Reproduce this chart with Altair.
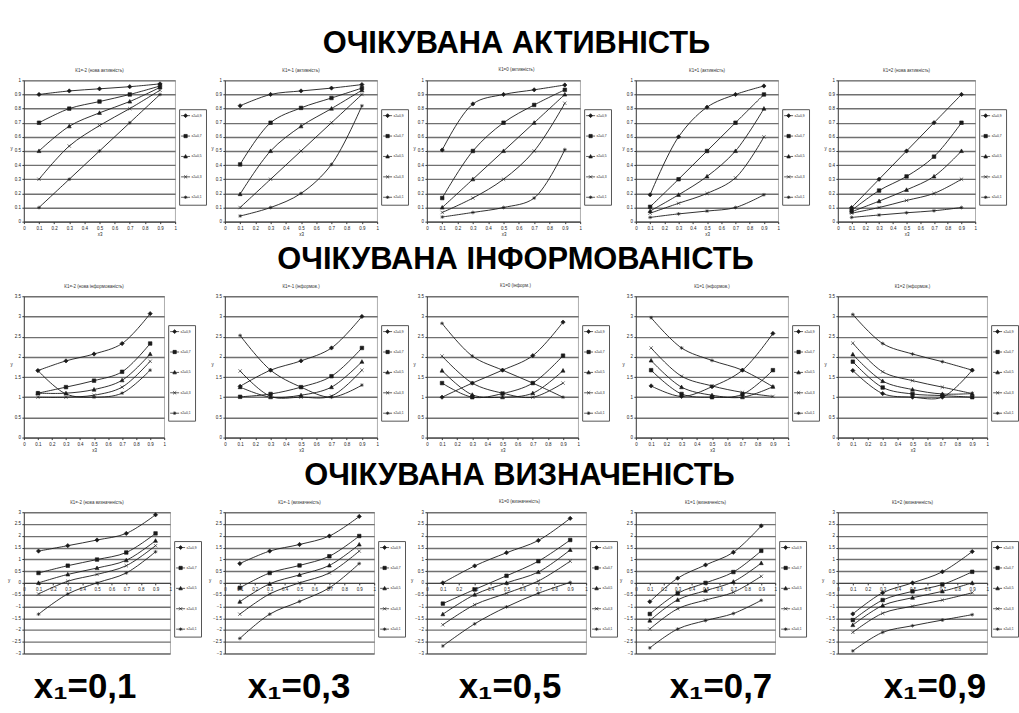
import altair as alt
import pandas as pd

# ---------------------------------------------------------------- data
X3 = [0.1, 0.3, 0.5, 0.7, 0.9]
SERIES = ["x2=0,9", "x2=0,7", "x2=0,5", "x2=0,3", "x2=0,1"]
X1_LABELS = ["x₁=0,1", "x₁=0,3", "x₁=0,5", "x₁=0,7", "x₁=0,9"]
ROW_TITLES = ["ОЧІКУВАНА АКТИВНІСТЬ", "ОЧІКУВАНА ІНФОРМОВАНІСТЬ", "ОЧІКУВАНА ВИЗНАЧЕНІСТЬ"]

ACT_TITLES = ["К1=-2 (нова активність)", "К1=-1 (активність)", "К1=0 (активність)",
              "К1=1 (активність)", "К1=2 (нова активність)"]
INF_TITLES = ["К1=-2 (нова інформованість)", "К1=-1 (інформов.)", "К1=0 (інформ.)",
              "К1=1 (інформов.)", "К1=2 (інформов.)"]
DEF_TITLES = ["К1=-2 (нова визначеність)", "К1=-1 (визначеність)", "К1=0 (визначеність)",
              "К1=1 (визначеність)", "К1=2 (визначеність)"]

X_TICKS = [0, 0.1, 0.2, 0.3, 0.4, 0.5, 0.6, 0.7, 0.8, 0.9, 1]
Y_TICKS_ACT = [0, 0.1, 0.2, 0.3, 0.4, 0.5, 0.6, 0.7, 0.8, 0.9, 1]
Y_TICKS_INF = [0, 0.5, 1, 1.5, 2, 2.5, 3, 3.5]
Y_TICKS_DEF = [-3, -2.5, -2, -1.5, -1, -0.5, 0, 0.5, 1, 1.5, 2, 2.5, 3]

# expected activity, one list per x2 series (0.9, 0.7, 0.5, 0.3, 0.1)
act_x1_01 = [[0.90, 0.925, 0.94, 0.955, 0.975],
             [0.70, 0.80, 0.85, 0.90, 0.96],
             [0.50, 0.675, 0.77, 0.85, 0.95],
             [0.30, 0.535, 0.68, 0.80, 0.93],
             [0.10, 0.30, 0.50, 0.70, 0.90]]
act_x1_03 = [[0.82, 0.90, 0.925, 0.945, 0.97],
             [0.405, 0.70, 0.805, 0.875, 0.945],
             [0.195, 0.50, 0.675, 0.80, 0.93],
             [0.10, 0.30, 0.50, 0.70, 0.90],
             [0.04, 0.10, 0.20, 0.405, 0.82]]
act_x1_05 = [[0.507, 0.833, 0.90, 0.933, 0.967],
             [0.167, 0.50, 0.70, 0.826, 0.933],
             [0.10, 0.30, 0.50, 0.70, 0.90],
             [0.065, 0.167, 0.30, 0.50, 0.838],
             [0.033, 0.065, 0.10, 0.167, 0.51]]
act_x1_07 = [[0.19, 0.60, 0.81, 0.90, 0.96],
             [0.105, 0.30, 0.50, 0.70, 0.90],
             [0.075, 0.19, 0.32, 0.50, 0.80],
             [0.06, 0.13, 0.20, 0.31, 0.60],
             [0.03, 0.055, 0.075, 0.10, 0.19]]
act_x1_09 = [[0.10, 0.30, 0.50, 0.70, 0.90],
             [0.08, 0.22, 0.32, 0.46, 0.70],
             [0.07, 0.145, 0.225, 0.32, 0.50],
             [0.06, 0.10, 0.15, 0.20, 0.30],
             [0.03, 0.047, 0.063, 0.077, 0.10]]

# expected informedness
inf_x1_01 = [[1.66, 1.90, 2.07, 2.33, 3.07],
             [1.10, 1.25, 1.41, 1.63, 2.33],
             [1.10, 1.10, 1.19, 1.42, 2.07],
             [1.00, 1.00, 1.05, 1.25, 1.89],
             [1.66, 1.08, 1.00, 1.10, 1.67]]
inf_x1_03 = [[1.27, 1.67, 1.90, 2.22, 3.00],
             [1.01, 1.08, 1.25, 1.52, 2.22],
             [1.25, 1.00, 1.05, 1.25, 1.88],
             [1.65, 1.02, 1.00, 1.03, 1.67],
             [2.53, 1.67, 1.25, 1.00, 1.30]]
inf_x1_05 = [[1.00, 1.35, 1.67, 2.03, 2.86],
             [1.35, 1.00, 1.09, 1.35, 2.03],
             [1.66, 1.06, 1.00, 1.10, 1.66],
             [2.02, 1.35, 1.10, 1.00, 1.35],
             [2.83, 2.02, 1.67, 1.35, 1.00]]
inf_x1_07 = [[1.28, 1.02, 1.26, 1.67, 2.58],
             [1.67, 1.08, 1.00, 1.07, 1.67],
             [1.91, 1.25, 1.05, 1.00, 1.26],
             [2.22, 1.52, 1.28, 1.12, 1.02],
             [2.97, 2.22, 1.91, 1.67, 1.26]]
inf_x1_09 = [[1.66, 1.09, 1.00, 1.00, 1.67],
             [1.88, 1.24, 1.08, 1.04, 1.00],
             [2.06, 1.40, 1.19, 1.08, 1.09],
             [2.34, 1.63, 1.41, 1.25, 1.09],
             [3.05, 2.33, 2.07, 1.88, 1.67]]

# expected definiteness
def_x1_01 = [[1.35, 1.58, 1.82, 2.10, 2.89],
             [0.42, 0.73, 0.99, 1.29, 2.10],
             [0.00, 0.36, 0.63, 0.96, 1.79],
             [-0.47, 0.07, 0.36, 0.73, 1.58],
             [-1.33, -0.47, 0.00, 0.42, 1.32]]
def_x1_03 = [[0.82, 1.35, 1.63, 1.99, 2.82],
             [-0.21, 0.42, 0.74, 1.13, 1.99],
             [-0.80, -0.04, 0.34, 0.74, 1.63],
             [-1.33, -0.47, 0.00, 0.42, 1.35],
             [-2.36, -1.33, -0.79, -0.21, 0.82]]
def_x1_05 = [[0.00, 0.72, 1.28, 1.80, 2.74],
             [-0.88, -0.28, 0.30, 0.92, 1.82],
             [-1.33, -0.50, 0.00, 0.46, 1.40],
             [-1.78, -0.93, -0.44, 0.08, 0.92],
             [-2.68, -1.74, -1.02, -0.44, 0.02]]
def_x1_07 = [[-0.80, 0.20, 0.76, 1.30, 2.42],
             [-1.32, -0.44, 0.00, 0.46, 1.36],
             [-1.60, -0.72, -0.33, 0.05, 0.84],
             [-1.96, -1.10, -0.73, -0.40, 0.28],
             [-2.76, -1.96, -1.60, -1.30, -0.74]]
def_x1_09 = [[-1.32, -0.42, 0.00, 0.47, 1.33],
             [-1.58, -0.73, -0.36, -0.07, 0.47],
             [-1.79, -0.96, -0.63, -0.36, 0.00],
             [-2.10, -1.29, -0.99, -0.73, -0.42],
             [-2.89, -2.10, -1.82, -1.58, -1.35]]

# ---------------------------------------------------------------- styling
FONT = "Liberation Sans"
INK = "#1a1a1a"
PANEL_H = 142
ROW_WIDTHS = [[152, 153, 154, 143, 138],
              [141, 153, 152, 153, 150],
              [147, 150, 160, 140, 150]]
LABEL_X = [61, 74, 83, 85, 97]

MARKS = ["M0,-1.15L1.15,0L0,1.15L-1.15,0Z",              # diamond
         "M-0.95,-0.95L0.95,-0.95L0.95,0.95L-0.95,0.95Z",  # square
         "M0,-1.1L1.05,0.85L-1.05,0.85Z",                  # triangle
         "M-0.9,-0.9L0.9,0.9M-0.9,0.9L0.9,-0.9",           # x
         "M-1,0L1,0M0,-1L0,1M-0.7,-0.7L0.7,0.7M-0.7,0.7L0.7,-0.7"]  # star
KEY_MARKS = ["M-2.6,0L2.6,0" + m for m in MARKS]


def long_frame(values):
    rows = []
    for name, ys in zip(SERIES, values):
        for x, y in zip(X3, ys):
            rows.append({"x3": x, "y": y, "series": name})
    return pd.DataFrame(rows)


def panel(values, width, small_title, y_domain, y_ticks, big_title=None, col=0, zero_axis=False):
    data = long_frame(values)
    if zero_axis:
        x_axis = alt.Axis(values=X_TICKS, format=".1~f", labelFlush=False, grid=False,
                          offset=-PANEL_H / 2, title=X1_LABELS[col],
                          titleFontSize=35, titleFontWeight="bold", titleColor="black",
                          titleX=LABEL_X[col], titleY=104, titleAlign="center",
                          titleBaseline="middle", titleAngle=0)
    else:
        x_axis = alt.Axis(values=X_TICKS, format=".1~f", labelFlush=False, grid=False,
                          title="x3")
    y_axis = alt.Axis(values=y_ticks, format=".1~f", title="y", titleAngle=0,
                      titlePadding=3, grid=True)
    x_enc = alt.X("x3:Q", scale=alt.Scale(domain=[0, 1], nice=False), axis=x_axis)
    y_enc = alt.Y("y:Q", scale=alt.Scale(domain=y_domain, nice=False), axis=y_axis)

    lines = alt.Chart(data).mark_line(
        interpolate="catmull-rom", color=INK, strokeWidth=0.9
    ).encode(x=x_enc, y=y_enc, detail="series:N")

    points = alt.Chart(data).mark_point(
        filled=True, fill=INK, stroke=INK, strokeWidth=0.6, size=14, opacity=1
    ).encode(
        x=x_enc, y=y_enc,
        shape=alt.Shape("series:N", scale=alt.Scale(domain=SERIES, range=MARKS), legend=None),
    )

    # legend entries draw a short line through each marker
    key = alt.Chart(data).transform_filter("false").mark_point(
        filled=True, fill=INK, stroke=INK, strokeWidth=0.7, size=12, opacity=1
    ).encode(
        x=x_enc, y=y_enc,
        shape=alt.Shape(
            "series:N",
            scale=alt.Scale(domain=SERIES, range=KEY_MARKS),
            legend=alt.Legend(
                title=None, orient="none", legendX=width + 4, legendY=29,
                strokeColor="#555", fillColor="white", padding=4, cornerRadius=0,
                rowPadding=13.5, labelFontSize=3.3, labelOffset=3.5, labelFont=FONT,
                labelColor=INK, symbolSize=12, symbolStrokeWidth=0.7, symbolOpacity=1,
            ),
        ),
    )

    if big_title:
        title = alt.TitleParams(
            text=big_title, subtitle=small_title, fontSize=31, fontWeight="bold",
            font=FONT, color="black", subtitleFontSize=4.5, subtitleFont=FONT,
            subtitleColor="#333", subtitlePadding=7, offset=5, anchor="middle", dx=13,
        )
    else:
        title = alt.TitleParams(text=small_title, fontSize=4.5, fontWeight="normal",
                                font=FONT, color="#333", offset=5, anchor="middle")

    return alt.layer(lines, points, key).resolve_scale(shape="independent").properties(
        width=width, height=PANEL_H, title=title
    )


rows = [
    ([act_x1_01, act_x1_03, act_x1_05, act_x1_07, act_x1_09], ACT_TITLES, [0, 1], Y_TICKS_ACT, False),
    ([inf_x1_01, inf_x1_03, inf_x1_05, inf_x1_07, inf_x1_09], INF_TITLES, [0, 3.5], Y_TICKS_INF, False),
    ([def_x1_01, def_x1_03, def_x1_05, def_x1_07, def_x1_09], DEF_TITLES, [-3, 3], Y_TICKS_DEF, True),
]

panels = []
for r, (row_values, titles, y_domain, y_ticks, zero_axis) in enumerate(rows):
    for c in range(5):
        panels.append(panel(
            row_values[c], ROW_WIDTHS[r][c], titles[c], y_domain, y_ticks,
            big_title=ROW_TITLES[r] if c == 2 else None, col=c, zero_axis=zero_axis,
        ))

chart = alt.concat(
    *panels, columns=5, spacing={"row": 75, "column": 50}, bounds="flush", align="each"
).properties(
    padding={"left": 7, "top": 26, "right": 0, "bottom": 0}, background="white"
).configure(font=FONT).configure_view(
    stroke="#9a9a9a", strokeWidth=0.8
).configure_axis(
    labelFontSize=4.5, labelFont=FONT, labelColor="#222", labelPadding=1.5,
    tickSize=2, tickColor="#333", domainColor="#333", domainWidth=0.8,
    titleFontSize=4.5, titleFont=FONT, titleFontWeight="normal", titleColor="#222",
    titlePadding=2,
).configure_axisY(
    gridColor="#707070", gridWidth=1.4
)

chart.save("out.html", embed_options={"renderer": "svg", "actions": False})
